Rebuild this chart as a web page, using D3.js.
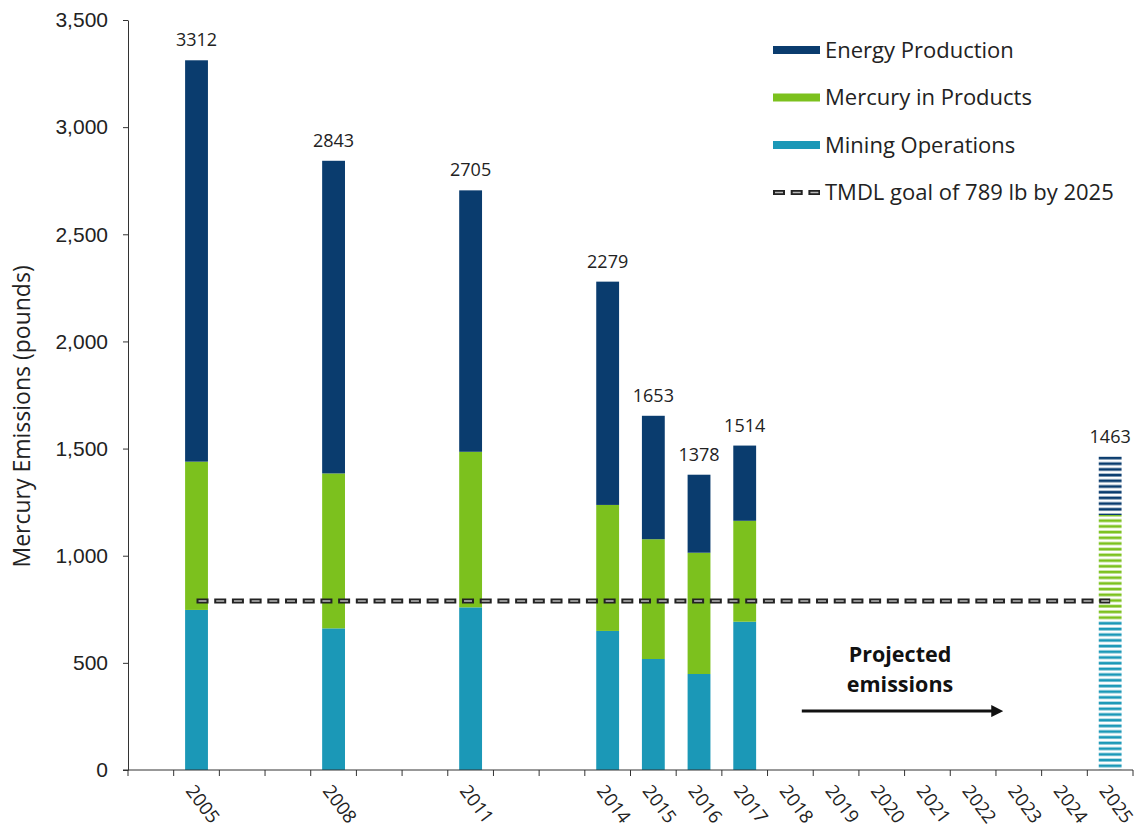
<!DOCTYPE html>
<meta charset="utf-8">
<style>
body { margin: 0; background: #fff; }
svg { display: block; font-family: "Open Sans", sans-serif; }
.axis path, .axis line { stroke: #333; }
.axis text { font-size: 21px; fill: #222; }
</style>
<svg width="1141" height="831"></svg>
<script src="https://d3js.org/d3.v7.min.js"></script>
<script>

// years along the axis (first slot is left blank), and which ones get a label
var years = [2004, 2005, 2006, 2007, 2008, 2009, 2010, 2011, 2012, 2013, 2014,
             2015, 2016, 2017, 2018, 2019, 2020, 2021, 2022, 2023, 2024, 2025];
var labelledYears = [2005, 2008, 2011, 2014, 2015, 2016, 2017, 2018, 2019,
                     2020, 2021, 2022, 2023, 2024, 2025];

// years that have a bar
var barYears = [2005, 2008, 2011, 2014, 2015, 2016, 2017, 2025];
var mining   = [747, 661, 759, 649, 518, 448, 692, 700];
var products = [692, 723, 726, 588, 559, 566, 471, 490];
var energy   = [1873, 1459, 1220, 1042, 576, 364, 351, 273];
var totals   = [3312, 2843, 2705, 2279, 1653, 1378, 1514, 1463];
var projectedYear = 2025;

var tmdlGoal = 789;
var yTicks = [0, 500, 1000, 1500, 2000, 2500, 3000, 3500];

var seriesNames  = ["Energy Production", "Mercury in Products", "Mining Operations"];
var seriesKeys   = ["energy", "products", "mining"];
var seriesColors = { energy: "#0a3c6e", products: "#7cc11e", mining: "#1b98b7" };

var svg = d3.select("svg"),
    margin = { left: 128, right: 8, top: 20, bottom: 61 },
    width = +svg.attr("width"),
    height = +svg.attr("height");

var x = d3.scaleBand()
    .domain(years)
    .range([margin.left, width - margin.right]);

var y = d3.scaleLinear()
    .domain([0, 3500])
    .range([height - margin.bottom, margin.top]);

// rows for the stack
var rows = barYears.map(function(yr, i) {
  return { year: yr, mining: mining[i], products: products[i], energy: energy[i], total: totals[i] };
});

var stack = d3.stack().keys(["mining", "products", "energy"]);
var layers = stack(rows);

// striped patterns for the projected bar
var defs = svg.append("defs");
seriesKeys.forEach(function(k) {
  var p = defs.append("pattern")
      .attr("id", "stripe-" + k)
      .attr("patternUnits", "userSpaceOnUse")
      .attr("width", 10)
      .attr("height", 5.7);
  p.append("rect")
      .attr("x", 0).attr("y", 0.6)
      .attr("width", 10).attr("height", 2.8)
      .attr("fill", seriesColors[k]);
});

var barW = x.bandwidth() * 0.5;

var g = svg.append("g");
layers.forEach(function(layer) {
  var key = layer.key;
  g.selectAll(".seg-" + key)
    .data(layer)
    .enter().append("rect")
      .attr("x", function(d) { return x(d.data.year) + (x.bandwidth() - barW) / 2; })
      .attr("y", function(d) { return y(d[1]); })
      .attr("width", barW)
      .attr("height", function(d) { return y(d[0]) - y(d[1]); })
      .attr("fill", function(d) {
        return d.data.year === projectedYear ? "url(#stripe-" + key + ")" : seriesColors[key];
      });
});

// totals above the bars
g.selectAll(".total")
  .data(rows)
  .enter().append("text")
    .attr("x", function(d) { return x(d.year) + x.bandwidth() / 2; })
    .attr("y", function(d) { return y(d.total) - 14; })
    .attr("text-anchor", "middle")
    .style("font-size", "18px")
    .style("fill", "#222")
    .text(function(d) { return d.total; });

// y axis
var yAxis = svg.append("g")
    .attr("class", "axis")
    .attr("transform", "translate(" + margin.left + ",0)")
    .call(d3.axisLeft(y).tickValues(yTicks).tickFormat(d3.format(",")).tickSize(5).tickPadding(15).tickSizeOuter(0));

// x axis: line plus ticks at band edges
var x0 = margin.left, x1 = width - margin.right, yb = y(0);
var xAxis = svg.append("g").attr("class", "axis");
xAxis.append("line")
    .attr("x1", x0 - 5).attr("x2", x1)
    .attr("y1", yb).attr("y2", yb)
    .attr("stroke", "#333");
xAxis.selectAll(".xt")
  .data(years.concat([null]))
  .enter().append("line")
    .attr("x1", function(d) { return d === null ? x1 : x(d); })
    .attr("x2", function(d) { return d === null ? x1 : x(d); })
    .attr("y1", yb).attr("y2", yb + 6)
    .attr("stroke", "#333");
xAxis.selectAll(".xl")
  .data(labelledYears)
  .enter().append("text")
    .attr("transform", function(d) {
      return "translate(" + (x(d) + x.bandwidth() / 2 - 1) + "," + (yb + 13) + ") rotate(53)";
    })
    .attr("dy", "0.72em")
    .style("font-size", "18.5px")
    .text(function(d) { return d; });

// y axis title
svg.append("text")
    .attr("transform", "translate(30," + y(1650) + ") rotate(-90)")
    .attr("text-anchor", "middle")
    .style("font-size", "23px")
    .style("fill", "#222")
    .text("Mercury Emissions (pounds)");

// TMDL goal line
function dashedLine(sel, xa, xb, yy) {
  sel.append("line")
      .attr("x1", xa).attr("x2", xb).attr("y1", yy).attr("y2", yy)
      .attr("stroke", "#222").attr("stroke-width", 5)
      .attr("stroke-dasharray", "12,5.7");
  sel.append("line")
      .attr("x1", xa + 2).attr("x2", xb).attr("y1", yy).attr("y2", yy)
      .attr("stroke", "#bbb").attr("stroke-width", 1.4)
      .attr("stroke-dasharray", "8,9.7");
}
dashedLine(svg.append("g"),
  x(2005) + x.bandwidth() / 2, x(2025) + x.bandwidth() / 2, y(tmdlGoal));

// projected emissions note
var note = svg.append("g");
var noteX = x(2020) + x.bandwidth() * 0.9;
note.append("text")
    .attr("y", y(500) - 1)
    .attr("text-anchor", "middle")
    .style("font-size", "21.5px").style("font-weight", "bold").style("fill", "#111")
    .selectAll("tspan")
    .data(["Projected", "emissions"])
    .enter().append("tspan")
      .attr("x", noteX)
      .attr("dy", function(d, i) { return i ? 30 : 0; })
      .text(function(d) { return d; });

defs.append("marker")
    .attr("id", "arrow")
    .attr("viewBox", "0 0 10 10")
    .attr("refX", 2).attr("refY", 5)
    .attr("markerWidth", 4).attr("markerHeight", 4)
    .attr("orient", "auto")
  .append("path")
    .attr("d", "M0,0L10,5L0,10z")
    .attr("fill", "#111");
note.append("line")
    .attr("x1", x(2018) + x.bandwidth() * 0.75)
    .attr("x2", x(2022) + x.bandwidth() * 0.95)
    .attr("y1", y(275)).attr("y2", y(275))
    .attr("stroke", "#111").attr("stroke-width", 3)
    .attr("marker-end", "url(#arrow)");

// legend
var legend = svg.append("g").attr("transform", "translate(773,50)");
seriesKeys.forEach(function(k, i) {
  var row = legend.append("g").attr("transform", "translate(0," + i * 47.5 + ")");
  row.append("rect")
      .attr("x", 0).attr("y", -4).attr("width", 47).attr("height", 8)
      .attr("fill", seriesColors[k]);
  row.append("text")
      .attr("x", 52).attr("dy", "0.35em")
      .style("font-size", "22px").style("fill", "#222")
      .text(seriesNames[i]);
});
var lrow = legend.append("g").attr("transform", "translate(0," + 3 * 47.5 + ")");
dashedLine(lrow, 0, 47, 0);
lrow.append("text")
    .attr("x", 52).attr("dy", "0.35em")
    .style("font-size", "22px").style("fill", "#222")
    .text("TMDL goal of " + tmdlGoal + " lb by 2025");

</script>
